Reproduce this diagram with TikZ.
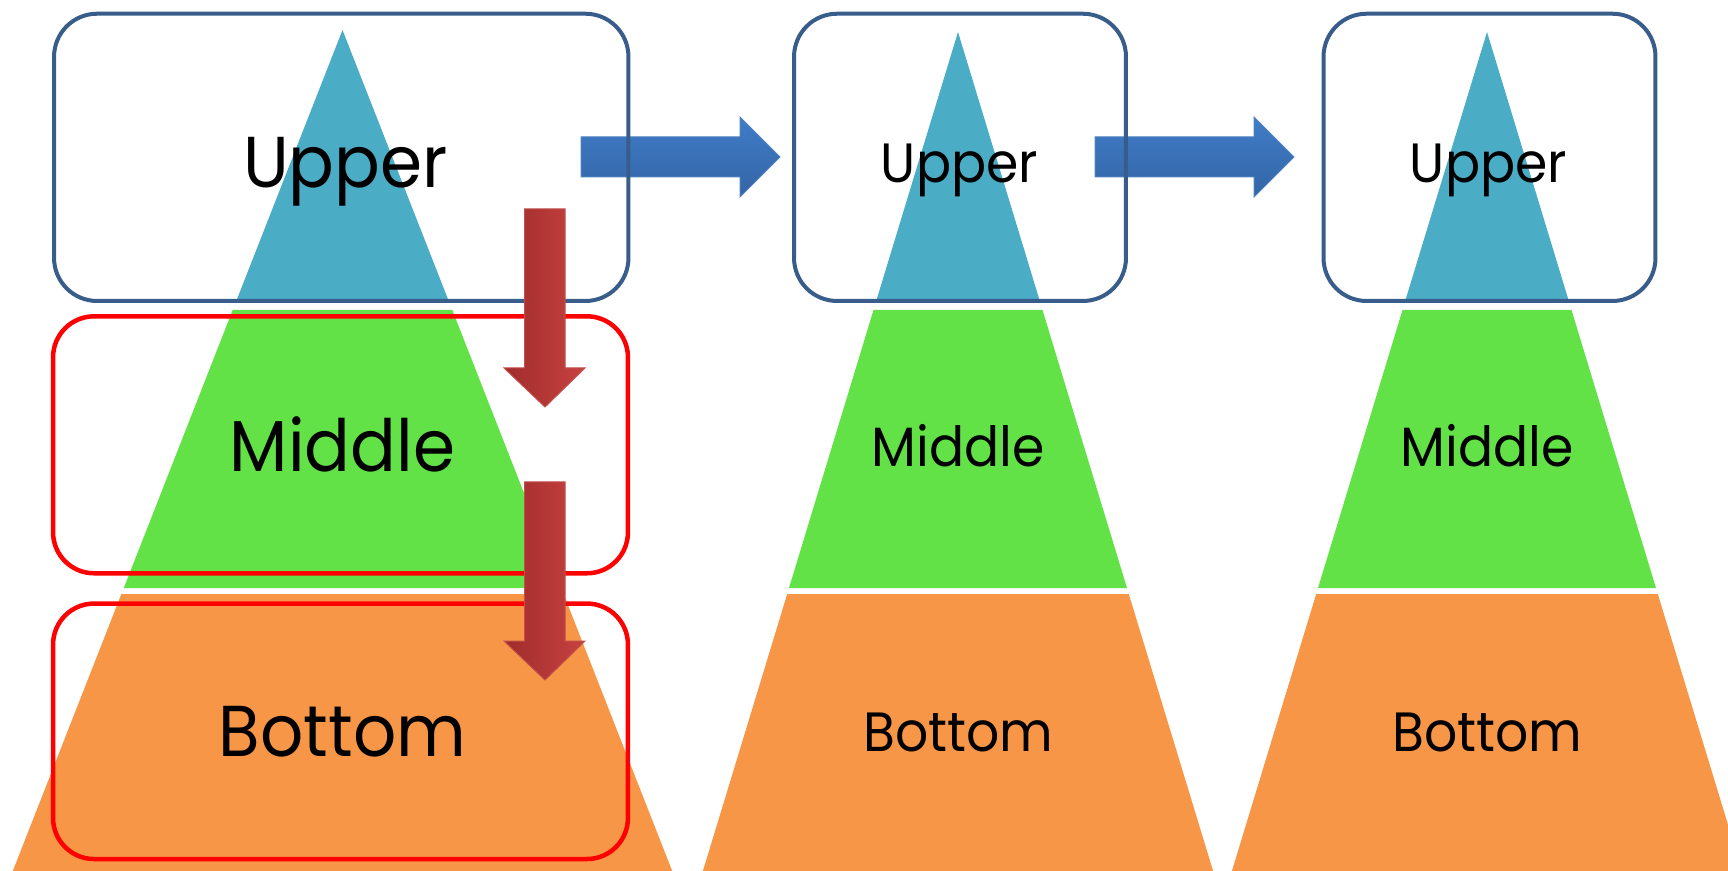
\documentclass[tikz,border=0pt]{standalone}
\usepackage{fontspec}
\setmainfont{Poppins}[FakeStretch=0.94]
\definecolor{tierblue}{RGB}{75,172,198}
\definecolor{tiergreen}{RGB}{99,226,72}
\definecolor{tierorange}{RGB}{247,150,70}
\definecolor{frameblue}{RGB}{56,93,138}
\definecolor{framered}{RGB}{255,0,0}
\definecolor{arrowtop}{RGB}{64,124,199}
\definecolor{arrowbot}{RGB}{51,101,166}
\definecolor{arrowedge}{RGB}{79,129,189}
\definecolor{redleft}{RGB}{160,44,44}
\definecolor{redright}{RGB}{199,66,64}
\definecolor{rededge}{RGB}{192,80,77}
\begin{document}
\begin{tikzpicture}[x=0.02cm,y=-0.02cm,
  bluebox/.style={draw=frameblue, line width=0.08cm, inner sep=0pt, rounded corners=0.86cm},
  redbox/.style={draw=framered, line width=0.09cm, inner sep=0pt, rounded corners=0.82cm},
  bigtext/.style={anchor=base, inner sep=0pt, font=\fontsize{41}{50}\selectfont},
  smalltext/.style={anchor=base, inner sep=0pt, font=\fontsize{31.5}{38}\selectfont},
  rightarrow/.style={top color=arrowtop, bottom color=arrowbot, draw=arrowedge, line width=0.02cm},
  downarrow/.style={left color=redleft, right color=redright, draw=rededge, line width=0.02cm}]
\useasboundingbox (0,0) rectangle (1728,871);
\clip (0,0) rectangle (1728,871);

% --- wide pyramid (left)
\fill[tierblue]   (342.5,30) -- (449.1,302) -- (235.9,302) -- cycle;
\fill[tiergreen]  (232.7,310) -- (452.3,310) -- (561.2,588) -- (123.8,588) -- cycle;
\fill[tierorange] (121.4,594) -- (563.6,594) -- (672.2,871) -- (12.8,871) -- cycle;

% --- narrow pyramid (middle)
\fill[tierblue]   (958,32) -- (1040.1,302) -- (875.9,302) -- cycle;
\fill[tiergreen]  (873.5,310) -- (1042.5,310) -- (1127,588) -- (789,588) -- cycle;
\fill[tierorange] (787.2,594) -- (1128.8,594) -- (1213.1,871) -- (702.9,871) -- cycle;

% --- narrow pyramid (right)
\fill[tierblue]   (1487,32) -- (1569.1,302) -- (1404.9,302) -- cycle;
\fill[tiergreen]  (1402.5,310) -- (1571.5,310) -- (1656,588) -- (1318,588) -- cycle;
\fill[tierorange] (1316.2,594) -- (1657.8,594) -- (1742.1,871) -- (1231.9,871) -- cycle;

% --- horizontal block arrows
\shadedraw[rightarrow] (581,137) -- (740,137) -- (740,117) -- (780,157) -- (740,197) -- (740,177) -- (581,177) -- cycle;
\shadedraw[rightarrow] (1095,137) -- (1254,137) -- (1254,117) -- (1294,157) -- (1254,197) -- (1254,177) -- (1095,177) -- cycle;

% --- frames
\node[bluebox, minimum width=11.49cm, minimum height=5.746cm] (upA) at (341.25,157.35) {};
\node[bluebox, minimum width=6.64cm,  minimum height=5.746cm] (upB) at (960,157.35) {};
\node[bluebox, minimum width=6.64cm,  minimum height=5.746cm] (upC) at (1489.5,157.35) {};
\node[redbox, minimum width=11.5cm, minimum height=5.14cm]  (midA) at (340.5,444.8) {};
\node[redbox, minimum width=11.5cm, minimum height=5.11cm]  (botA) at (340.5,731.3) {};

% --- vertical block arrows
\shadedraw[downarrow] (524.5,209) -- (565,209) -- (565,368) -- (585,368) -- (545,407) -- (504,368) -- (524.5,368) -- cycle;
\shadedraw[downarrow] (524.5,482) -- (565,482) -- (565,641) -- (585,641) -- (545,680) -- (504,641) -- (524.5,641) -- cycle;

% --- labels
\node[bigtext] (lupA) at (345.5,188) {Upper};
\node[bigtext] (lmidA) at (342.5,472) {Middle};
\node[bigtext] (lbotA) at (342.5,756) {Bottom};
\node[smalltext] (lupB) at (959.5,183) {Upper};
\node[smalltext] (lmidB) at (958,466) {Middle};
\node[smalltext] (lbotB) at (958.5,751) {Bottom};
\node[smalltext] (lupC) at (1488.5,183) {Upper};
\node[smalltext] (lmidC) at (1487,466) {Middle};
\node[smalltext] (lbotC) at (1487.5,751) {Bottom};
\end{tikzpicture}
\end{document}
